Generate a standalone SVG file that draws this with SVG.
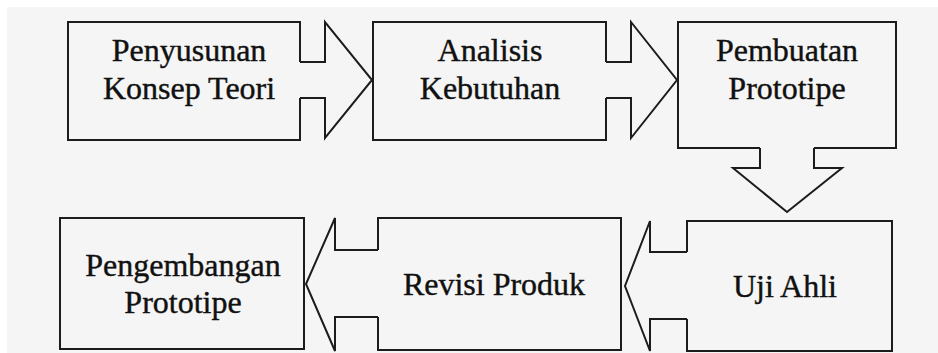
<svg xmlns="http://www.w3.org/2000/svg" width="938" height="353" viewBox="0 0 938 353">
<style>
.bg{fill:#f5f5f5}
.box{fill:none;stroke:#1c1c1c;stroke-width:2;stroke-linejoin:miter}
.arr{fill:none;stroke:#1c1c1c;stroke-width:2;stroke-linejoin:miter}
.t{font-size:32px;fill:#111;stroke:#111;stroke-width:0.4;text-anchor:middle}
</style>
<rect width="938" height="353" fill="#ffffff"/>
<rect class="bg" x="7" y="7" width="931" height="346"/>
<g font-family="'Liberation Serif', 'Times New Roman', 'DejaVu Serif', serif">
<g id="node-penyusunan">
<path class="box" d="M300,62 V22 H68 V140 H300 V98"/>
<text class="t" x="189" y="61" font-family="Liberation Serif, serif">Penyusunan</text>
<text class="t" x="189" y="99" font-family="Liberation Serif, serif">Konsep Teori</text>
</g>
<g id="node-analisis">
<path class="box" d="M606,62 V22 H373 V140 H606 V98"/>
<text class="t" x="490" y="61" font-family="Liberation Serif, serif">Analisis</text>
<text class="t" x="490" y="99" font-family="Liberation Serif, serif">Kebutuhan</text>
</g>
<g id="node-pembuatan">
<path class="box" d="M760,148 H678 V22 H896 V148 H814"/>
<text class="t" x="787" y="61" font-family="Liberation Serif, serif">Pembuatan</text>
<text class="t" x="787" y="99" font-family="Liberation Serif, serif">Prototipe</text>
</g>
<g id="node-uji">
<path class="box" d="M687,252 V221 H892 V351 H687 V319"/>
<text class="t" x="785" y="297" font-family="Liberation Serif, serif">Uji Ahli</text>
</g>
<g id="node-revisi">
<path class="box" d="M378,250 V218 H621 V350 H378 V317"/>
<text class="t" x="494" y="295" font-family="Liberation Serif, serif">Revisi Produk</text>
</g>
<g id="node-pengembangan">
<rect class="box" x="60" y="218" width="244" height="131"/>
<text class="t" x="183" y="276" font-family="Liberation Serif, serif">Pengembangan</text>
<text class="t" x="183" y="313" font-family="Liberation Serif, serif">Prototipe</text>
</g>
</g>
<g id="connectors">
<polyline class="arr" points="300,62 325,62 325,22 372,80 325,138 325,98 300,98"/>
<polyline class="arr" points="606,62 631,62 631,22 677,80 631,138 631,98 606,98"/>
<polyline class="arr" points="760,148 760,168 733,168 787,212 842,168 814,168 814,148"/>
<polyline class="arr" points="687,252 650,252 650,221 625,286 650,351 650,319 687,319"/>
<polyline class="arr" points="378,250 335,250 335,218 306,284 335,351 335,317 378,317"/>
</g>
</svg>
